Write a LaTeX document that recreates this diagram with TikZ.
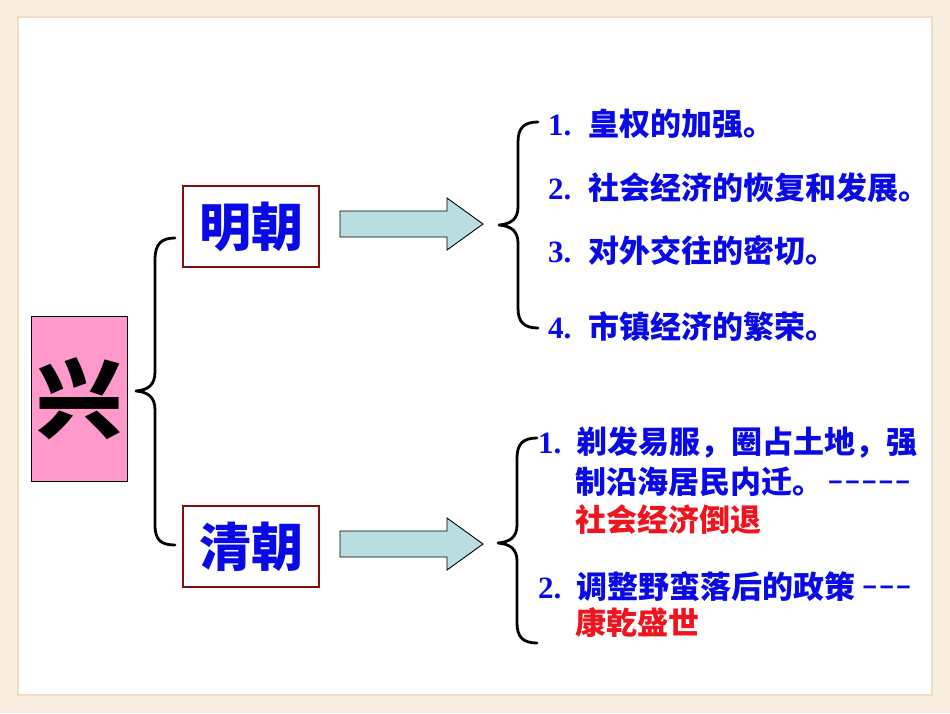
\documentclass[tikz,border=0pt]{standalone}
\usepackage{fontspec}
\setmainfont{Noto Sans CJK SC}
\newfontfamily\numfont{Liberation Serif}
\newfontfamily\dashfont{Liberation Mono}
\definecolor{bgbeige}{RGB}{248,237,222}
\definecolor{bgedge}{RGB}{239,221,196}
\definecolor{pinkfill}{RGB}{255,153,204}
\definecolor{darkred}{RGB}{128,16,16}
\definecolor{txtblue}{RGB}{10,10,230}
\definecolor{txtred}{RGB}{240,20,30}
\definecolor{arrowfill}{RGB}{185,222,226}
\tikzset{
  titlebox/.style={draw=darkred, line width=1.6pt, fill=white, minimum width=136pt, minimum height=81pt, inner sep=0pt, text=txtblue, font=\bfseries\fontsize{52}{52}\selectfont},
  itemtext/.style={anchor=west, inner sep=0pt, text=txtblue, font=\bfseries\fontsize{31}{31}\selectfont},
  redtext/.style={itemtext, text=txtred},
  bracepath/.style={line width=2.8pt, line cap=round, line join=round},
  fatarrow/.style={draw=black, line width=0.9pt, fill=arrowfill}
}
\newcommand\dashrun[1]{\raisebox{4pt}{\dashfont\bfseries\fontsize{28}{28}\selectfont #1}}
\begin{document}
\begin{tikzpicture}[x=1pt,y=-1pt]
\useasboundingbox (0,0) rectangle (950,713);
\fill[bgbeige] (0,0) rectangle (950,713);
\draw[bgedge, line width=2pt, fill=white] (18,17) rectangle (932,695);

% main box
\node[draw=black, line width=0.8pt, fill=pinkfill, minimum width=96pt, minimum height=165pt, inner sep=0pt,
      font=\bfseries\fontsize{86}{86}\selectfont] (xing) at (79,398.5) {兴};

% left brace
\draw[bracepath] (175,238) .. controls (161,238) and (155,244) .. (155,260) -- (155,372)
  .. controls (155,385) and (148,390) .. (136,391)
  .. controls (148,392) and (155,397) .. (155,410) -- (155,525)
  .. controls (155,540) and (161,545) .. (175,545);

% dynasty boxes
\node[titlebox] (ming) at (251,226.5) {明朝};
\node[titlebox] (qing) at (251,546.5) {清朝};

% arrows
\draw[fatarrow] (340,211) -- (447,211) -- (447,198) -- (483,224) -- (447,250) -- (447,237) -- (340,237) -- cycle;
\draw[fatarrow] (340,531) -- (447,531) -- (447,518) -- (483,544) -- (447,570) -- (447,557) -- (340,557) -- cycle;

% right braces
\draw[bracepath] (538,122) .. controls (524,122) and (518,128) .. (518,142) -- (518,207)
  .. controls (518,219) and (511,224) .. (499,225)
  .. controls (511,226) and (518,231) .. (518,243) -- (518,308)
  .. controls (518,322) and (524,328) .. (538,328);
\draw[bracepath] (537,438) .. controls (523,438) and (517,444) .. (517,458) -- (517,525)
  .. controls (517,537) and (510,542) .. (498,543)
  .. controls (510,544) and (517,549) .. (517,561) -- (517,623)
  .. controls (517,637) and (523,643) .. (537,643);

% Ming items
\node[itemtext] (m1) at (548,124) {{\numfont 1.}\hspace{17pt}皇权的加强。};
\node[itemtext] (m2) at (548,188) {{\numfont 2.}\hspace{17pt}社会经济的恢复和发展。};
\node[itemtext] (m3) at (548,251) {{\numfont 3.}\hspace{17pt}对外交往的密切。};
\node[itemtext] (m4) at (548,327) {{\numfont 4.}\hspace{17pt}市镇经济的繁荣。};

% Qing items
\node[itemtext] (q1a) at (538,443) {{\numfont 1.}\hspace{15pt}剃发易服，圈占土地，强};
\node[itemtext] (q1b) at (575,482) {制沿海居民内迁。\hspace{4pt}\dashrun{–––––}};
\node[redtext] (q1c) at (575,520) {社会经济倒退};
\node[itemtext] (q2a) at (538,587) {{\numfont 2.}\hspace{15pt}调整野蛮落后的政策\hspace{6pt}\dashrun{–––}};
\node[redtext] (q2b) at (575,623) {康乾盛世};
\end{tikzpicture}
\end{document}
